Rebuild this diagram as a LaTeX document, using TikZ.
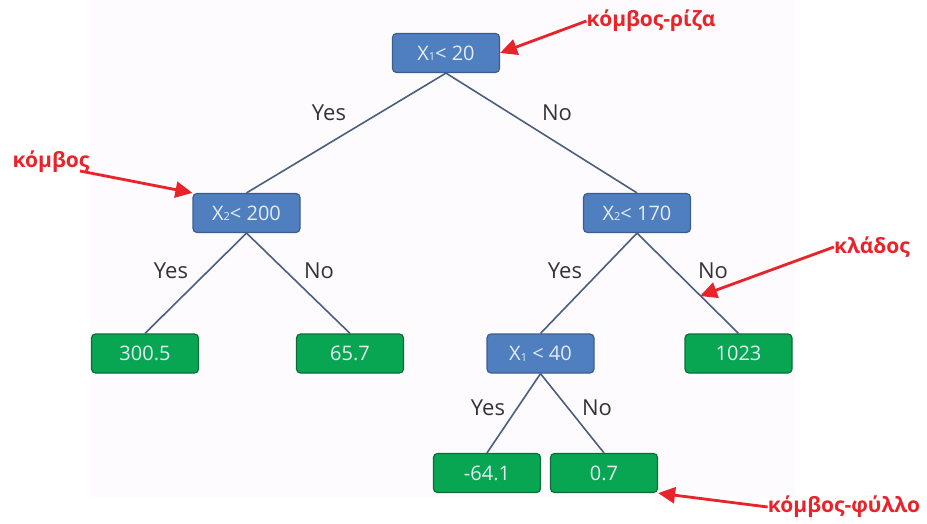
\documentclass[tikz,border=0pt]{standalone}
\usepackage{fontspec}
\setmainfont{Open Sans}
\usetikzlibrary{arrows.meta}
\definecolor{bluefill}{HTML}{4F7FBE}
\definecolor{blueline}{HTML}{3A5F8F}
\definecolor{greenfill}{HTML}{08A652}
\definecolor{greenline}{HTML}{0B6E38}
\definecolor{edgecol}{HTML}{4A5F80}
\definecolor{annred}{HTML}{E8242A}
\definecolor{slide}{HTML}{FDFBFE}
\definecolor{nodetext}{HTML}{E4ECF6}
\tikzset{
  dnode/.style={rectangle, rounded corners=4pt, minimum width=107pt, minimum height=39pt, inner sep=0pt, line width=1.2pt, text=nodetext, font=\fontsize{20}{20}\selectfont},
  decision/.style={dnode, fill=bluefill, draw=blueline},
  leaf/.style={dnode, fill=greenfill, draw=greenline},
  edge/.style={draw=edgecol, line width=1.6pt},
  elabel/.style={text=black!80, font=\fontsize{22}{22}\selectfont, inner sep=0pt},
  ann/.style={text=annred, font=\bfseries\fontsize{21}{21}\selectfont, inner sep=0pt},
  annarrow/.style={draw=annred, line width=2.8pt, -{Triangle[length=17pt,width=16pt]}},
}
\newcommand{\sbs}[1]{\raisebox{-0.5pt}{\fontsize{11}{11}\selectfont #1}}
\begin{document}
\begin{tikzpicture}[x=1pt,y=-1pt]
\useasboundingbox (0,0) rectangle (927,523);
\fill[slide] (90,0) rectangle (795,497);
\node[decision] (root) at (446,53) {X\sbs{1}< 20};
\node[decision] (a) at (246.5,213) {X\sbs{2}< 200};
\node[decision] (b) at (637,213) {X\sbs{2}< 170};
\node[leaf] (l1) at (145,353.5) {300.5};
\node[leaf] (l2) at (350,353.5) {65.7};
\node[decision] (c) at (540.5,353.5) {X\sbs{1} < 40};
\node[leaf] (l3) at (738.5,353.5) {1023};
\node[leaf] (l4) at (487,473) {-64.1};
\node[leaf] (l5) at (604,473) {0.7};

\draw[edge] (root.south) -- (a.north);
\draw[edge] (root.south) -- (b.north);
\draw[edge] (a.south) -- (l1.north);
\draw[edge] (a.south) -- (l2.north);
\draw[edge] (b.south) -- (c.north);
\draw[edge] (b.south) -- (l3.north);
\draw[edge] (c.south) -- (l4.north);
\draw[edge] (c.south) -- (l5.north);

\node[elabel] (y1) at (329,113) {Yes};
\node[elabel] (n1) at (557,113) {No};
\node[elabel] (y2) at (171,271) {Yes};
\node[elabel] (n2) at (319,271) {No};
\node[elabel] (y3) at (565,271) {Yes};
\node[elabel] (n3) at (713,271) {No};
\node[elabel] (y4) at (488,408) {Yes};
\node[elabel] (n4) at (597,408) {No};

\node[ann] (t1) at (651,21) {κόμβος-ρίζα};
\node[ann] (t2) at (51,162) {κόμβος};
\node[ann] (t3) at (872,247) {κλάδος};
\node[ann] (t4) at (844,507) {κόμβος-φύλλο};
\coordinate (p2) at (80,171);
\coordinate (p3) at (700,296);
\draw[annarrow] (t1.west) -- (root.east);
\draw[annarrow] (p2) -- (a.north west);
\draw[annarrow] (t3.west) -- (p3);
\draw[annarrow] (t4.west) -- (l5.south east);
\end{tikzpicture}
\end{document}
